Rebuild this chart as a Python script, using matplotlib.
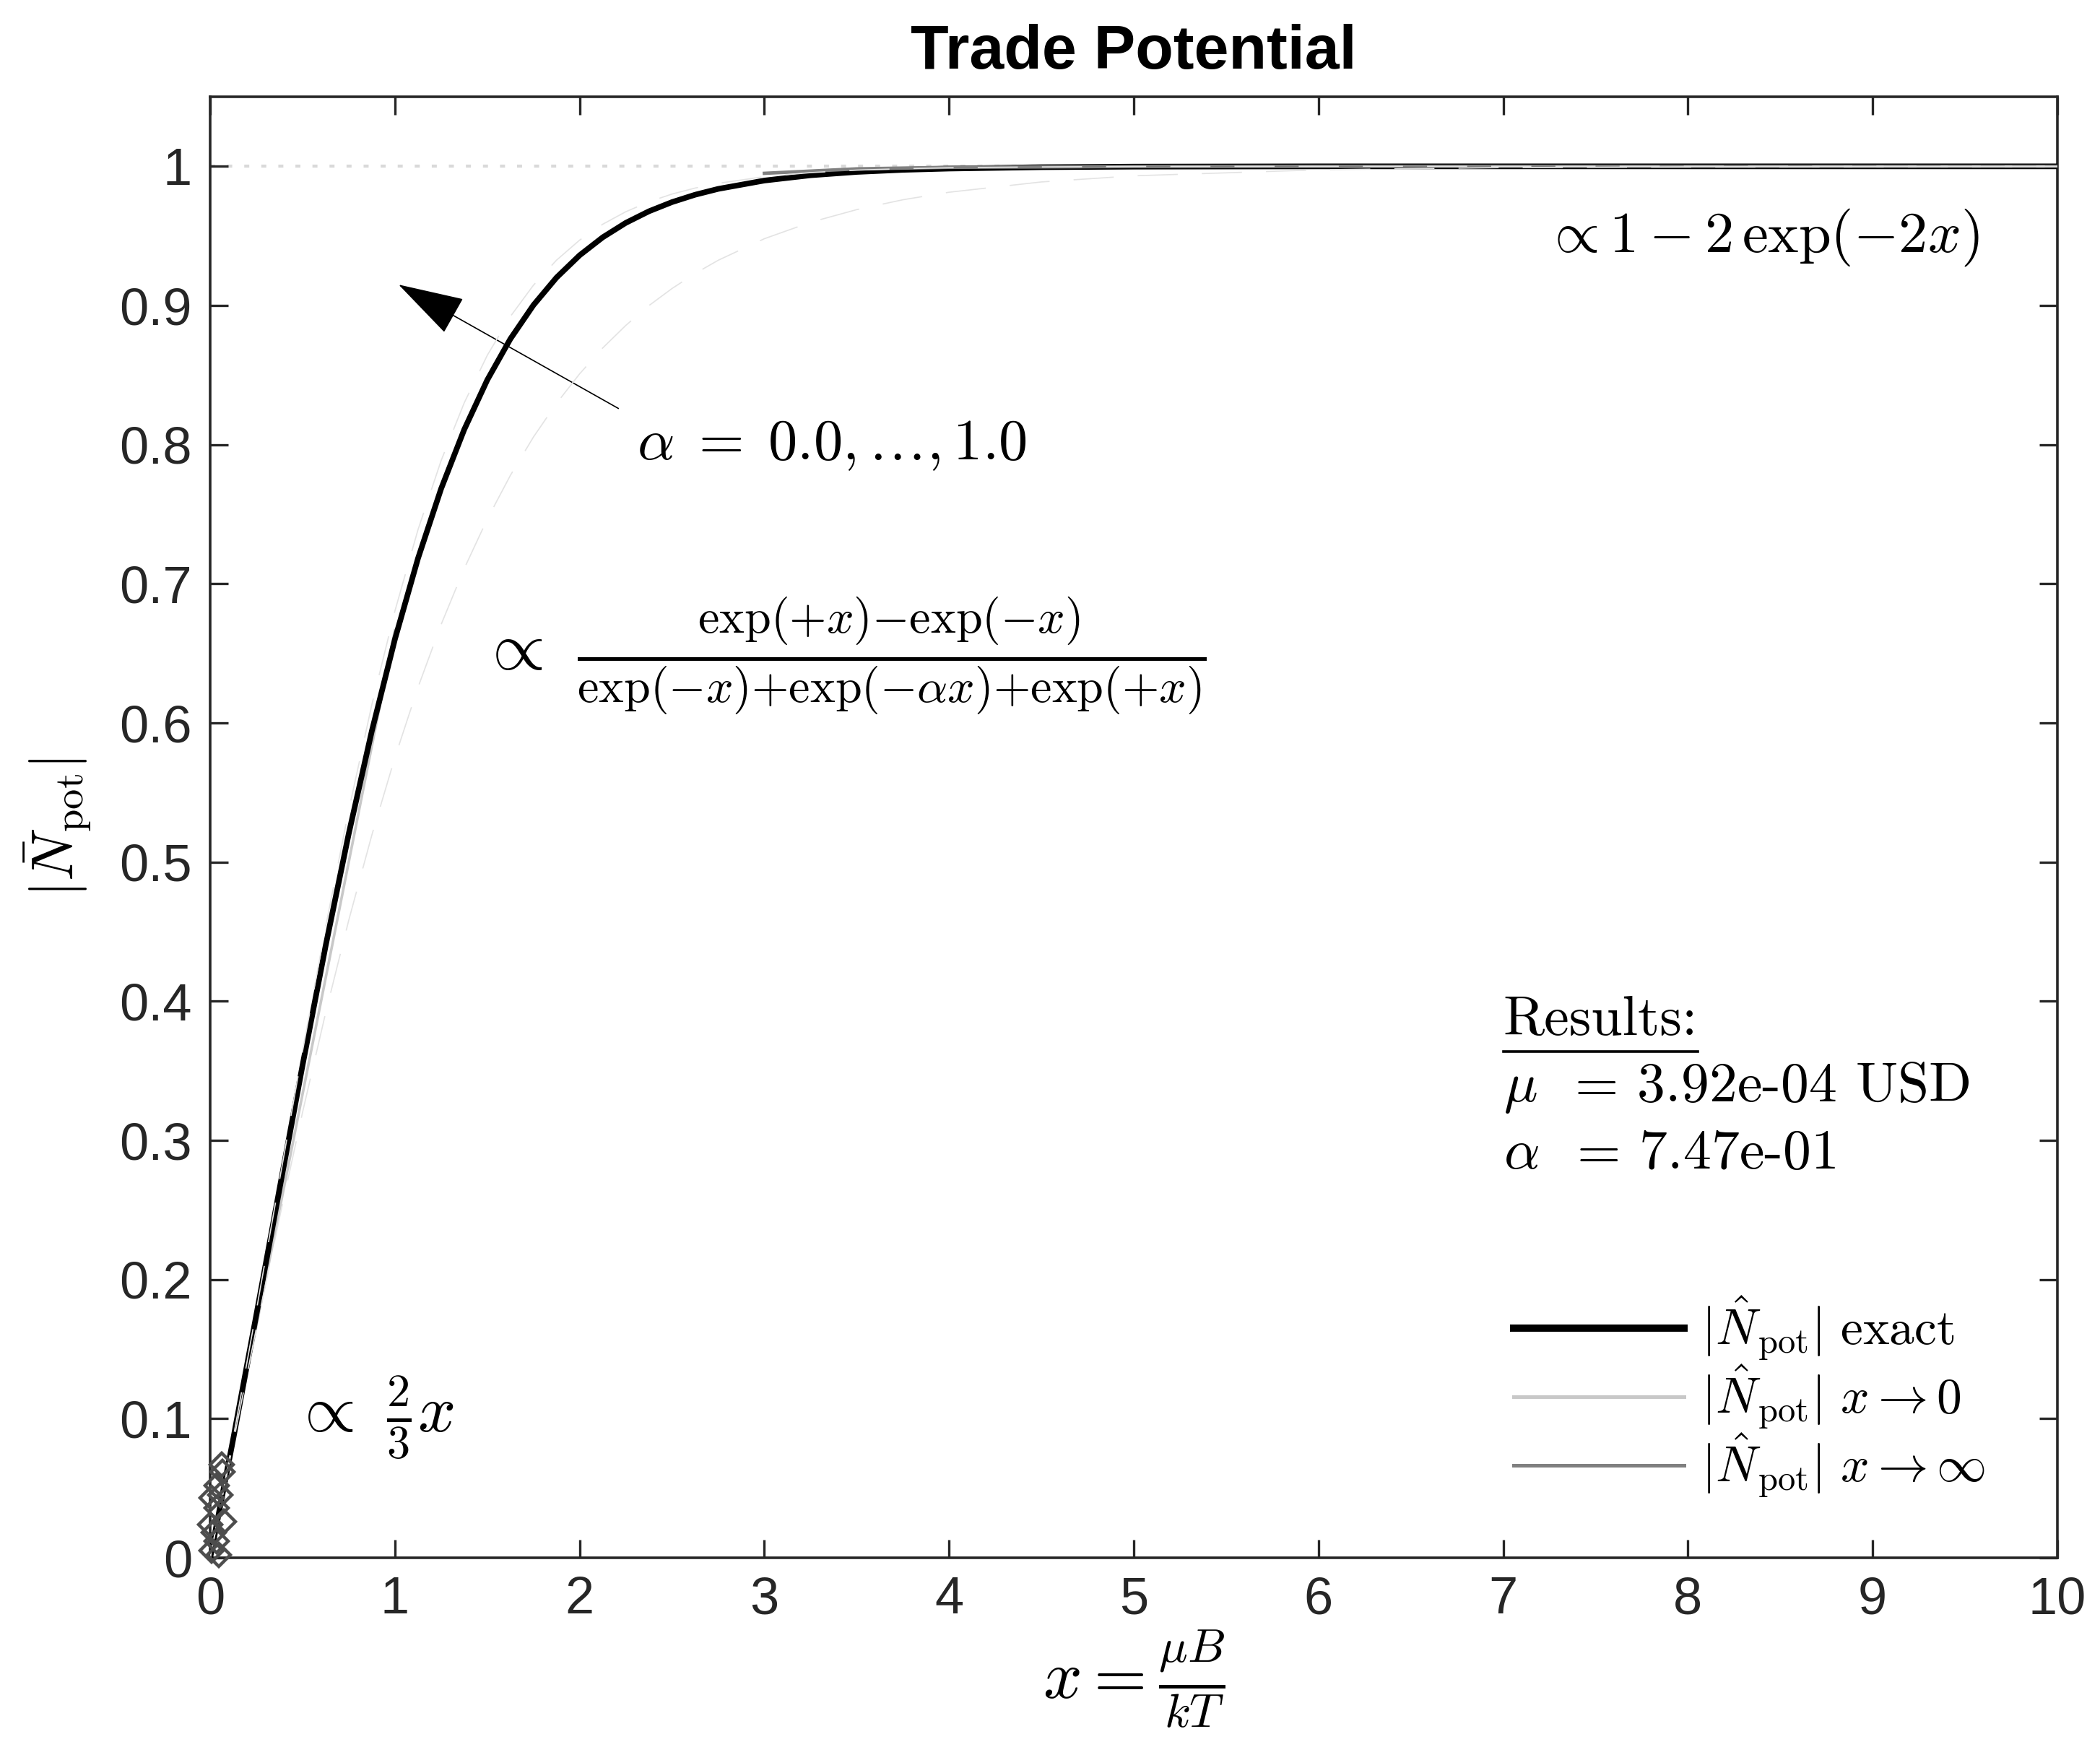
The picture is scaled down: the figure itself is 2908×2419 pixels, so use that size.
import matplotlib
matplotlib.use('Agg')
import matplotlib.pyplot as plt
from matplotlib.lines import Line2D

plt.rcParams['mathtext.fontset'] = 'cm'
plt.rcParams['font.family'] = ['Liberation Sans', 'DejaVu Sans']
plt.rcParams['lines.scale_dashes'] = False

# exact curve (alpha = 0.747)
x_exact = [0, 0.125, 0.25, 0.375, 0.5, 0.625, 0.75, 0.875, 1.0, 1.125, 1.25, 1.375,
           1.5, 1.625, 1.75, 1.875, 2.0, 2.125, 2.25, 2.375, 2.5, 2.625, 2.75,
           3.0, 3.25, 3.5, 3.75, 4.0, 4.5, 5.0, 6.0, 7.0, 8.0, 9.0, 10.0]
y_exact = [0, 0.0857, 0.1747, 0.2649, 0.3541, 0.4399, 0.5204, 0.5942, 0.6602,
           0.7183, 0.7683, 0.8108, 0.8465, 0.8760, 0.9003, 0.9201, 0.9361,
           0.9490, 0.9594, 0.9677, 0.9743, 0.9796, 0.9838, 0.9898, 0.9936,
           0.9960, 0.9975, 0.9984, 0.9994, 0.9998, 1.0, 1.0, 1.0, 1.0, 1.0]

# alpha family, dashed light curves (alpha = 0.0 and alpha = 1.0)
x_family = [0, 0.125, 0.25, 0.375, 0.5, 0.625, 0.75, 0.875, 1.0, 1.125, 1.25, 1.375,
            1.5, 1.625, 1.75, 1.875, 2.0, 2.125, 2.25, 2.375, 2.5, 2.625, 2.75,
            3.0, 3.25, 3.5, 3.75, 4.0, 4.5, 5.0, 6.0, 7.0, 8.0, 9.0, 10.0]
y_alpha0 = [0, 0.0831, 0.1650, 0.2443, 0.3202, 0.3917, 0.4582, 0.5194, 0.5752,
            0.6256, 0.6707, 0.7109, 0.7465, 0.7779, 0.8055, 0.8297, 0.8509,
            0.8695, 0.8857, 0.8999, 0.9122, 0.9230, 0.9325, 0.9480, 0.9598,
            0.9689, 0.9760, 0.9814, 0.9888, 0.9932, 0.9975, 0.9991, 0.9997,
            0.9999, 1.0]
y_alpha1 = [0, 0.0865, 0.1778, 0.2713, 0.3642, 0.4536, 0.5372, 0.6131, 0.6805,
            0.7389, 0.7885, 0.8300, 0.8642, 0.8921, 0.9146, 0.9326, 0.9470,
            0.9584, 0.9674, 0.9745, 0.9801, 0.9844, 0.9878, 0.9926, 0.9955,
            0.9973, 0.9983, 0.9990, 0.9996, 0.9999, 1.0, 1.0, 1.0, 1.0, 1.0]

# small-x asymptote
x_small = [0, 0.5, 1.0]
y_small = [0, 0.3333, 0.6667]

# large-x asymptote
x_large = [3.0, 3.5, 4.0, 5.0, 6.0, 7.0, 8.0, 9.0, 10.0]
y_large = [0.9950, 0.9982, 0.9993, 0.9999, 1.0, 1.0, 1.0, 1.0, 1.0]

# measured points near the origin
x_pts = [0.061, 0.068, 0.035, 0.009, 0.035, 0.0, 0.074, 0.035, 0.009, 0.047, 0.02, 0.055]
y_pts = [0.067, 0.062, 0.052, 0.043, 0.036, 0.024, 0.026, 0.012, 0.005, 0.002, 0.018, 0.045]

mu_value = 3.92e-04
alpha_value = 7.47e-01

xticks = list(range(11))
yticks = [0, 0.1, 0.2, 0.3, 0.4, 0.5, 0.6, 0.7, 0.8, 0.9, 1.0]
ytick_labels = ['0', '0.1', '0.2', '0.3', '0.4', '0.5', '0.6', '0.7', '0.8', '0.9', '1']

fig = plt.figure(figsize=(14.54, 12.095), dpi=200)
ax = fig.add_axes([0.1001, 0.1083, 0.8796, 0.8363])

ax.plot([0, 10], [1, 1], color='#d9d9d9', lw=1.5, dashes=(2.5, 6), zorder=1)
ax.plot(x_exact, y_exact, color='black', lw=2.8, zorder=3,
        label=r'$|\hat{N}_{\mathrm{pot}}|\ \mathrm{exact}$')
ax.plot(x_small, y_small, color='#c8c8c8', lw=1.3, zorder=2,
        label=r'$|\hat{N}_{\mathrm{pot}}|\ x \rightarrow 0$')
ax.plot(x_large, y_large, color='#808080', lw=1.7, zorder=4,
        label=r'$|\hat{N}_{\mathrm{pot}}|\ x \rightarrow \infty$')
ax.plot(x_family, y_alpha0, color='#e3e3e3', lw=0.6, dashes=(20, 12), zorder=5)
ax.plot(x_family, y_alpha1, color='#e3e3e3', lw=0.6, dashes=(20, 12), zorder=5)
ax.plot(x_pts, y_pts, ls='none', marker='D', ms=8, mfc='none', mec='#4d4d4d',
        mew=1.6, zorder=6, clip_on=False)

ax.set_xlim(0, 10)
ax.set_ylim(0, 1.05)
ax.set_xticks(xticks)
ax.set_yticks(yticks)
ax.set_yticklabels(ytick_labels)
ax.tick_params(direction='in', top=True, right=True, length=9, width=1.2,
               colors='#262626', labelsize=26, pad=9)
for s in ax.spines.values():
    s.set_linewidth(1.3)
    s.set_color('#262626')

ax.set_title('Trade Potential', fontsize=31, fontweight='bold', pad=14)
ax.set_xlabel(r'$x = \frac{\mu B}{kT}$', fontsize=34, labelpad=2)
ax.set_ylabel(r'$|\bar{N}_{\mathrm{pot}}|$', fontsize=29, labelpad=13)

ax.annotate('', xy=(1.02, 0.915), xytext=(2.21, 0.826),
            arrowprops=dict(arrowstyle='-|>,head_length=1.5,head_width=0.45',
                            color='black', lw=0.6, shrinkA=0, shrinkB=0,
                            mutation_scale=20))
ax.text(2.31, 0.80, r'$\alpha\;=\;0.0, \ldots, 1.0$', fontsize=29, va='center')
ax.text(1.46, 0.648,
        r'$\propto\ \frac{\exp(+x){-}\exp(-x)}{\exp(-x){+}\exp(-\alpha x){+}\exp(+x)}$',
        fontsize=34, va='center')
ax.text(0.445, 0.101, r'$\propto\ \frac{2}{3}x$', fontsize=33, va='center')
ax.text(7.22, 0.949, r'$\propto 1 - 2\,\exp(-2x)$', fontsize=29, va='center')

res = ax.text(7.0, 0.386, 'Results:', fontsize=28, family='cmr10', va='center')
ax.text(7.0, 0.338, r'$\mu$  = ' + f'{mu_value:.2e} USD', fontsize=28,
        family='cmr10', va='center')
ax.text(7.0, 0.290, r'$\alpha$  = ' + f'{alpha_value:.2e}', fontsize=28,
        family='cmr10', va='center')

leg = ax.legend(loc='upper left', bbox_to_anchor=(0.7056, 0.180), frameon=False,
                fontsize=25, handlelength=3.4, handletextpad=0.35,
                labelspacing=0.01, borderpad=0, borderaxespad=0)
for ln, w in zip(leg.get_lines(), [3.6, 1.8, 1.8]):
    ln.set_linewidth(w)

# underline "Results:"
fig.canvas.draw()
bb = res.get_window_extent().transformed(ax.transAxes.inverted())
ax.add_line(Line2D([bb.x0, bb.x1], [bb.y0 - 0.004, bb.y0 - 0.004],
                   transform=ax.transAxes, color='black', lw=1.3))

fig.savefig('out.png', dpi=200, facecolor='white')
